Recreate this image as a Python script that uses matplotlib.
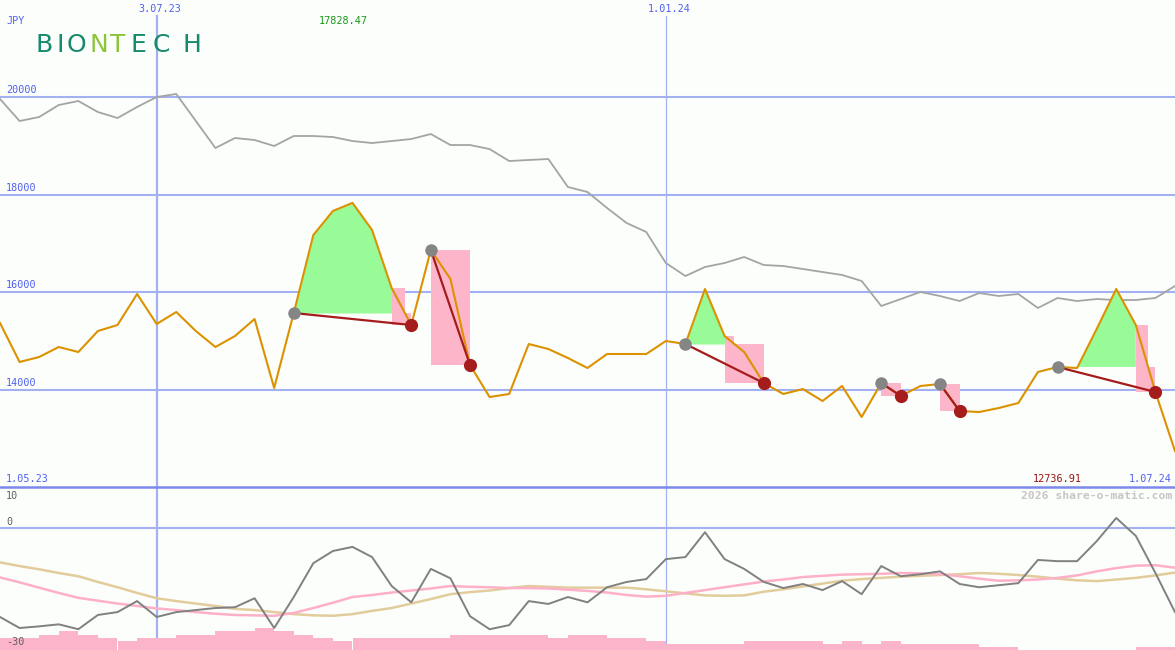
import numpy as np
import matplotlib
matplotlib.use("Agg")
import matplotlib.pyplot as plt
from matplotlib.patches import Polygon
from matplotlib.lines import Line2D

# ---------------- data ----------------
price = [15364, 14564, 14667, 14872, 14769, 15200, 15323, 15959, 15344, 15590,
         15200, 14872, 15097, 15446, 14031, 15569, 17169, 17662, 17828.47, 17272,
         16082, 15323, 16862, 16267, 14503, 13846, 13908, 14933, 14831, 14646,
         14441, 14728, 14728, 14728, 14995, 14933, 16062, 15097, 14769, 14133,
         13908, 14010, 13764, 14072, 13436, 14133, 13867, 14072, 14113, 13559,
         13538, 13620, 13723, 14359, 14462, 14441, 15241, 16062, 15323, 13949, 12736.91]

compare = [19959, 19508, 19590, 19836, 19918, 19692, 19569, 19795, 20000, 20062,
           19508, 18954, 19159, 19118, 18995, 19200, 19200, 19179, 19097, 19056,
           19097, 19138, 19241, 19015, 19015, 18933, 18687, 18708, 18728, 18154,
           18051, 17723, 17415, 17231, 16595, 16328, 16513, 16595, 16718, 16554,
           16533, 16472, 16410, 16349, 16226, 15713, 15856, 16000, 15918, 15815,
           15979, 15918, 15959, 15672, 15877, 15815, 15856, 15836, 15836, 15877, 16123]

momentum = [-21.9, -24.6, -24.2, -23.7, -24.9, -21.4, -20.7, -18.0, -21.9, -20.7,
            -20.2, -19.7, -19.5, -17.3, -24.6, -17.0, -8.7, -5.7, -4.7, -7.2,
            -14.3, -18.3, -10.1, -12.4, -21.7, -24.9, -23.9, -18.0, -18.7, -17.0,
            -18.3, -14.6, -13.3, -12.6, -7.7, -7.2, -1.1, -7.7, -10.1, -13.3,
            -14.8, -13.8, -15.3, -13.1, -16.3, -9.4, -11.9, -11.4, -10.7, -13.8,
            -14.6, -14.1, -13.6, -7.9, -8.2, -8.2, -3.3, 2.4, -2.0, -11.1, -20.7]

ma_pink = [-12.2, -13.4, -14.7, -16.0, -17.2, -17.9, -18.6, -19.2, -19.8, -20.2,
           -20.7, -21.1, -21.4, -21.5, -21.6, -20.9, -19.7, -18.4, -17.0, -16.5,
           -15.9, -15.4, -14.9, -14.3, -14.5, -14.6, -14.8, -14.8, -14.9, -15.2,
           -15.5, -15.9, -16.5, -16.9, -16.7, -16.0, -15.3, -14.6, -13.9, -13.2,
           -12.7, -12.1, -11.8, -11.5, -11.4, -11.3, -11.1, -11.2, -11.4, -11.9,
           -12.5, -13.0, -12.9, -12.7, -12.3, -11.7, -10.7, -9.9, -9.3, -9.2, -9.8]

ma_tan = [-8.5, -9.4, -10.2, -11.1, -11.9, -13.3, -14.6, -16.0, -17.3, -18.0,
          -18.6, -19.2, -19.9, -20.2, -20.7, -21.2, -21.5, -21.6, -21.2, -20.4,
          -19.7, -18.6, -17.5, -16.3, -15.8, -15.4, -14.8, -14.3, -14.5, -14.7,
          -14.7, -14.7, -14.7, -15.1, -15.6, -16.1, -16.6, -16.7, -16.6, -15.7,
          -15.1, -14.4, -13.7, -13.0, -12.6, -12.3, -12.0, -11.8, -11.6, -11.4,
          -11.1, -11.3, -11.6, -12.0, -12.5, -12.9, -13.1, -12.7, -12.3, -11.7, -11.0]

volume = [12, 12, 15, 19, 15, 12, 9, 12, 12, 15,
          15, 19, 19, 22, 19, 15, 12, 9, 12, 12,
          12, 12, 12, 15, 15, 15, 15, 15, 12, 15,
          15, 12, 12, 9, 6, 6, 6, 6, 9, 9,
          9, 9, 6, 9, 6, 9, 6, 6, 6, 6,
          3, 3, 0, 0, 0, 0, 0, 0, 3, 3]

# signals: (entry index, exit index)
signals = [(15, 21), (22, 24), (35, 39), (45, 46), (48, 49), (54, 59)]

price_ticks = [14000, 16000, 18000, 20000]
date_marks = {8: "3.07.23", 34: "1.01.24"}
start_label = "1.05.23"
end_label = "1.07.24"
currency = "JPY"

# ---------------- style ----------------
BG = "#fcfefc"
GRID = "#a3b1f3"
SEP = "#7b89eb"
LBL = "#5060f0"
MONO = "DejaVu Sans Mono"
FS = 7.3

W, H = 1175, 650
fig = plt.figure(figsize=(W / 100, H / 100), dpi=100, facecolor=BG)


def px(x, y):
    return x / W, 1 - y / H


ax = fig.add_axes([0, 163 / H, 1, 487 / H])
ax3 = fig.add_axes([0, 0, 1, 163 / H])
ax2 = fig.add_axes([0, 0, 1, 163 / H])
for a in (ax, ax2, ax3):
    a.set_xlim(0, 60)
    a.axis("off")
ax.set_facecolor(BG)
ax.patch.set_visible(True)
ax3.set_facecolor(BG)
ax3.patch.set_visible(True)
ax2.patch.set_visible(False)

ax.set_ylim(12000, 21990)
ax2.set_ylim(-30, 10)
ax3.set_ylim(0, 163)

x = np.arange(len(price))
p = np.array(price, dtype=float)

# grid
for v in price_ticks:
    ax.axhline(v, color=GRID, lw=1.5, zorder=1)
    ax.text(0.005, v + 40, str(v), transform=ax.get_yaxis_transform(), color=LBL,
            fontsize=FS, family=MONO, va="bottom", ha="left")
for i, lab in date_marks.items():
    lw = 1.6 if i == 8 else 0.9
    ax.axvline(i, ymax=0.967, color=GRID, lw=lw, zorder=1)
    ax3.axvline(i, color=GRID, lw=lw, zorder=0)
    ax.text(i + 0.15, 0.9815, lab, transform=ax.get_xaxis_transform(), color=LBL,
            fontsize=FS, family=MONO, ha="center", va="center")
ax2.axhline(0, color=GRID, lw=1.5, zorder=1)

# comparison line
ax.plot(x, compare, color="#a4a4a4", lw=1.3, zorder=2)

# signal areas
for e, xx in signals:
    entry, exitv = p[e], p[xx]
    la = e
    for k in range(e, xx + 1):
        if p[k] >= entry:
            la = k
    if la > e:
        seg = slice(e, la + 1)
        ax.fill_between(x[seg], p[seg], entry, where=p[seg] >= entry, interpolate=True,
                        color="#98fb98", lw=0, zorder=2)
        cross = la + (p[la] - entry) / (p[la] - p[la + 1])
        poly = [(la, p[la]), (cross, p[la]), (cross, entry), (xx, entry), (xx, exitv), (la, exitv)]
    else:
        poly = [(e, entry), (xx, entry), (xx, exitv), (e, exitv)]
    ax.add_patch(Polygon(poly, closed=True, facecolor="#fdb5ca", edgecolor="none", zorder=2))

# price line
ax.plot(x, p, color="#dc9200", lw=1.5, zorder=3)

for e, xx in signals:
    ax.plot([e, xx], [p[e], p[xx]], color="#a51c1c", lw=1.6, zorder=4)
    ax.plot(e, p[e], "o", color="#858585", ms=9, mec="none", zorder=5)
    ax.plot(xx, p[xx], "o", color="#a51c1c", ms=9.5, mec="none", zorder=5)

# lower panel
ax3.bar(np.arange(len(volume)), volume, width=1.0, align="edge", color="#fbb4c9", lw=0, zorder=1)
ax2.plot(x, ma_tan, color="#e2cc9c", lw=1.8, zorder=2)
ax2.plot(x, ma_pink, color="#fdb0c8", lw=1.8, zorder=2)
ax2.plot(x, momentum, color="#808080", lw=1.4, zorder=3)

# separator
fig.add_artist(Line2D([0, 1], [1 - 487 / H] * 2, color=SEP, lw=1.8, transform=fig.transFigure))

# texts
fig.text(*px(6, 21), currency, color=LBL, fontsize=FS, family=MONO, va="center")
fig.text(*px(343, 21), f"{p.max():.2f}", color="#189818", fontsize=FS, family=MONO,
         va="center", ha="center")
fig.text(*px(6, 479), start_label, color=LBL, fontsize=FS, family=MONO, va="center")
fig.text(*px(1172, 479), end_label, color=LBL, fontsize=FS, family=MONO, va="center", ha="right")
fig.text(*px(1082, 479), f"{p.min():.2f}", color="#9a1515", fontsize=FS, family=MONO,
         va="center", ha="right")
fig.text(*px(1172, 496), "2026 share-o-matic.com", color="#c6c6c6", fontsize=8.2,
         family=MONO, weight="bold", va="center", ha="right")
for lab, yy in (("10", 496), ("0", 522), ("-30", 642)):
    fig.text(*px(6, yy), lab, color="#606060", fontsize=FS, family=MONO, va="center")

# logo
logo = [("B", 44, "#168a6c"), ("I", 60, "#168a6c"), ("O", 76, "#168a6c"),
        ("N", 99, "#8cc43a"), ("T", 117.5, "#8cc43a"), ("E", 138.5, "#168a6c"),
        ("C", 161, "#168a6c"), ("H", 192, "#168a6c")]
for ch, cx, col in logo:
    fig.text(*px(cx, 44.5), ch, color=col, fontsize=18, family="DejaVu Sans",
             ha="center", va="center")

fig.savefig("out.png", dpi=100, facecolor=BG)
